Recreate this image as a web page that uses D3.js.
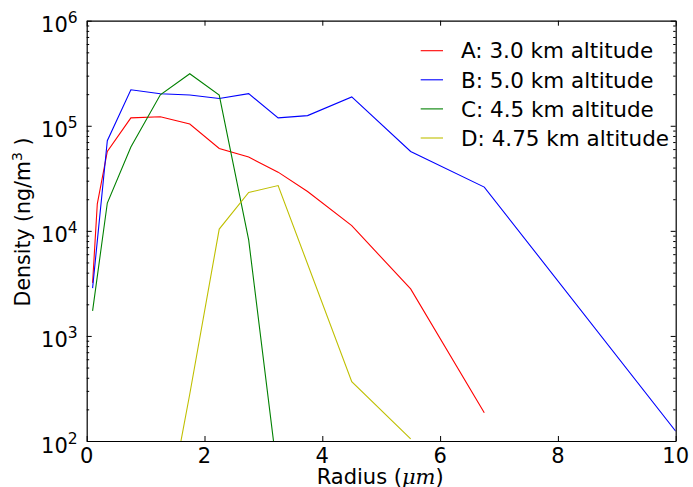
<!DOCTYPE html>
<html>
<head>
<meta charset="utf-8">
<script src="https://cdn.jsdelivr.net/npm/d3@7"></script>
<style>
  html, body { margin: 0; padding: 0; background: #fff; }
  svg { display: block; font-family: "DejaVu Sans", sans-serif; }
  .axis path, .axis line { stroke: #000; }
</style>
</head>
<body>
<svg id="chart" width="693" height="487"></svg>
<script>
// values (radius in µm, density in ng/m^3)
var seriesNames = ["A: 3.0 km altitude", "B: 5.0 km altitude", "C: 4.5 km altitude", "D: 4.75 km altitude"];
var seriesColors = ["#ff0000", "#0000ff", "#008000", "#bfbf00"];

var radiusA = [0.1, 0.18, 0.35, 0.75, 1.25, 1.75, 2.25, 2.75, 3.25, 3.75, 4.5, 5.5, 6.75];
var densityA = [3200, 18100, 57000, 119000, 122000, 104000, 60800, 50400, 36200, 23700, 11200, 2800, 186];

var radiusB = [0.1, 0.35, 0.75, 1.25, 1.75, 2.25, 2.75, 3.25, 3.75, 4.5, 5.5, 6.75, 10];
var densityB = [2850, 72000, 220000, 202000, 196000, 182000, 202000, 119000, 125000, 188000, 56900, 26100, 124];

var radiusC = [0.1, 0.35, 0.75, 1.25, 1.75, 2.25, 2.75, 3.25];
var densityC = [1730, 18400, 62700, 197000, 313000, 196000, 8200, 44];

var radiusD = [1.25, 1.75, 2.25, 2.75, 3.25, 4.5, 5.5];
var densityD = [9, 280, 10400, 23200, 27000, 367, 105];

var xTicks = [0, 2, 4, 6, 8, 10];
var yExponents = [2, 3, 4, 5, 6];

var radii = [radiusA, radiusB, radiusC, radiusD];
var densities = [densityA, densityB, densityC, densityD];

var svg = d3.select("#chart");
var L = 86.7, R = 675.7, T = 20.7, B = 441;

var x = d3.scaleLinear().domain([0, 10]).range([L, R]);
var y = d3.scaleLog().domain([1e2, 1e6]).range([B, T]);

var minorY = [];
yExponents.slice(0, -1).forEach(function (e) {
  for (var m = 2; m <= 9; m++) minorY.push(m * Math.pow(10, e));
});
var majorY = yExponents.map(function (e) { return Math.pow(10, e); });

// clip for the data lines
svg.append("defs").append("clipPath").attr("id", "plotclip")
  .append("rect").attr("x", L).attr("y", T).attr("width", R - L).attr("height", B - T);

var line = d3.line().x(function (d) { return x(d[0]); }).y(function (d) { return y(d[1]); });
var gLines = svg.append("g").attr("clip-path", "url(#plotclip)");
radii.forEach(function (rs, i) {
  var pts = rs.map(function (r, j) { return [r, densities[i][j]]; });
  gLines.append("path").attr("d", line(pts)).attr("fill", "none")
    .attr("stroke", seriesColors[i]).attr("stroke-width", 1.1);
});

// frame + inward ticks on all four sides
function addAxis(axis, tx, ty) {
  var g = svg.append("g").attr("class", "axis").attr("transform", "translate(" + tx + "," + ty + ")").call(axis);
  g.selectAll("text").remove();
  g.select(".domain").attr("stroke-width", 1.2);
  return g;
}
addAxis(d3.axisBottom(x).tickValues(xTicks).tickSize(-5).tickSizeOuter(0), 0, B);
addAxis(d3.axisTop(x).tickValues(xTicks).tickSize(-5).tickSizeOuter(0), 0, T);
addAxis(d3.axisLeft(y).tickValues(majorY).tickSize(-5).tickSizeOuter(0), L, 0);
addAxis(d3.axisRight(y).tickValues(majorY).tickSize(-5).tickSizeOuter(0), R, 0);
addAxis(d3.axisLeft(y).tickValues(minorY).tickSize(-2.5).tickSizeOuter(0), L, 0).select(".domain").remove();
addAxis(d3.axisRight(y).tickValues(minorY).tickSize(-2.5).tickSizeOuter(0), R, 0).select(".domain").remove();

// tick labels
svg.append("g").selectAll("text").data(xTicks).enter().append("text")
  .attr("x", function (d) { return x(d); }).attr("y", B + 21.5)
  .attr("text-anchor", "middle").attr("font-size", 21).text(function (d) { return d; });

var yl = svg.append("g").selectAll("text").data(yExponents).enter().append("text")
  .attr("x", L - 9).attr("y", function (d) { return y(Math.pow(10, d)) + 11.5; })
  .attr("text-anchor", "end").attr("font-size", 21);
yl.append("tspan").text("10");
yl.append("tspan").attr("dy", -9).attr("font-size", 15.5).text(function (d) { return d; });

// axis labels
var xl = svg.append("text").attr("x", (L + R) / 2 - 1).attr("y", 484).attr("text-anchor", "middle").attr("font-size", 21);
xl.append("tspan").text("Radius (");
xl.append("tspan").attr("font-family", "DejaVu Serif").attr("font-style", "italic").text("\u03bcm");
xl.append("tspan").text(")");

var ylab = svg.append("text").attr("transform", "translate(30,222) rotate(-90)")
  .attr("text-anchor", "middle").attr("font-size", 20.5);
ylab.append("tspan").text("Density (ng/m");
ylab.append("tspan").attr("dy", -8).attr("font-size", 14).text("3");
ylab.append("tspan").attr("dy", 8).text(" )");

// legend (no frame)
var leg = svg.append("g").selectAll("g").data(seriesNames).enter().append("g")
  .attr("transform", function (d, i) { return "translate(0," + (50.7 + i * 29.1) + ")"; });
leg.append("line").attr("x1", 420.7).attr("x2", 443).attr("y1", 0).attr("y2", 0)
  .attr("stroke", function (d, i) { return seriesColors[i]; }).attr("stroke-width", 1.1);
leg.append("text").attr("x", 461).attr("y", 7.7).attr("font-size", 21.5).text(function (d) { return d; });
</script>
</body>
</html>
